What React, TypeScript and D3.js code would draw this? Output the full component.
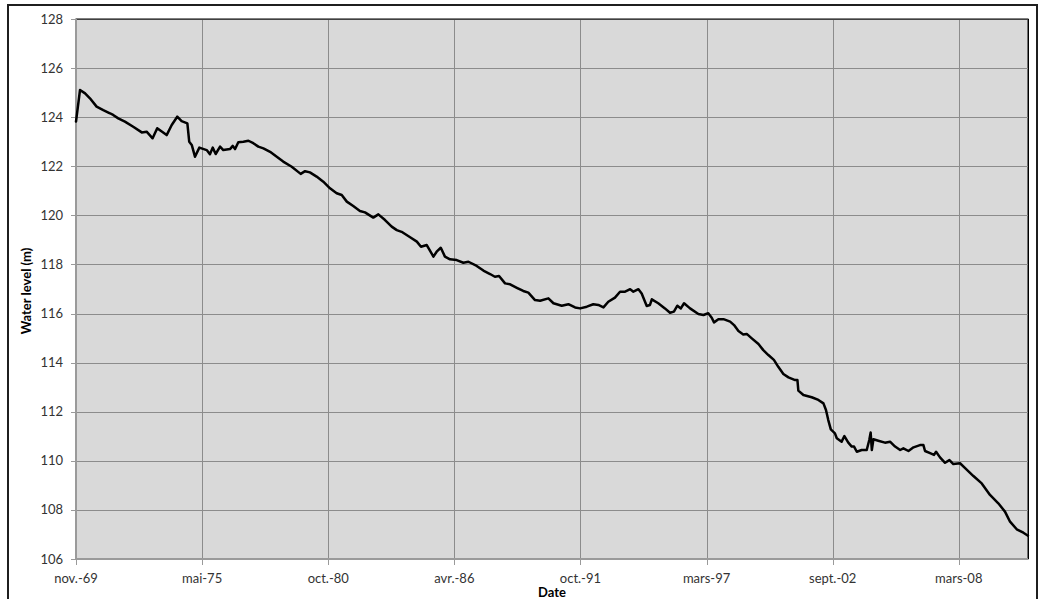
import React from "react";
import * as d3 from "d3";

// decimal years of the readings
const years: number[] = [
  1969.875, 1970.05, 1970.27, 1970.48, 1970.77, 1971.06, 1971.35, 1971.49, 1971.71, 1972.0,
  1972.36, 1972.73, 1972.94, 1973.2, 1973.4, 1973.81, 1974.03, 1974.27, 1974.46, 1974.71,
  1974.79, 1974.9, 1975.04, 1975.23, 1975.55, 1975.69, 1975.81, 1975.94, 1976.13, 1976.27,
  1976.56, 1976.68, 1976.78, 1976.92, 1977.14, 1977.36, 1977.57, 1977.79, 1978.01, 1978.3,
  1978.59, 1978.87, 1979.24, 1979.63, 1979.82, 1980.03, 1980.32, 1980.61, 1980.9, 1981.19,
  1981.41, 1981.63, 1981.91, 1982.2, 1982.42, 1982.78, 1983.0, 1983.29, 1983.58, 1983.8,
  1984.01, 1984.38, 1984.67, 1984.85, 1985.1, 1985.39, 1985.53, 1985.71, 1985.89, 1986.11,
  1986.4, 1986.69, 1986.91, 1987.27, 1987.56, 1987.85, 1988.06, 1988.24, 1988.5, 1988.72,
  1989.01, 1989.29, 1989.51, 1989.8, 1990.02, 1990.38, 1990.6, 1990.96, 1991.25, 1991.54,
  1991.76, 1992.05, 1992.33, 1992.55, 1992.77, 1992.98, 1993.27, 1993.49, 1993.71, 1993.93,
  1994.07, 1994.29, 1994.43, 1994.65, 1994.79, 1994.87, 1995.15, 1995.44, 1995.66, 1995.83,
  1995.98, 1996.13, 1996.27, 1996.53, 1996.89, 1997.11, 1997.32, 1997.47, 1997.57, 1997.76,
  1997.98, 1998.27, 1998.44, 1998.63, 1998.84, 1998.99, 1999.21, 1999.5, 1999.71, 1999.93,
  2000.17, 2000.36, 2000.58, 2000.8, 2001.09, 2001.19, 2001.23, 2001.45, 2001.81, 2002.1,
  2002.32, 2002.43, 2002.53, 2002.64, 2002.82, 2002.9, 2003.11, 2003.23, 2003.4, 2003.55,
  2003.65, 2003.77, 2003.98, 2004.2, 2004.31, 2004.37, 2004.42, 2004.49, 2004.7, 2004.99,
  2005.21, 2005.43, 2005.65, 2005.79, 2006.01, 2006.23, 2006.51, 2006.66, 2006.73, 2006.95,
  2007.12, 2007.21, 2007.38, 2007.6, 2007.79, 2007.96, 2008.25, 2008.47, 2008.83, 2009.19,
  2009.55, 2009.91, 2010.2, 2010.42, 2010.71, 2011.0, 2011.2,
];

// water level (m)
const levels: number[] = [
  123.82, 125.11, 124.97, 124.77, 124.43, 124.29, 124.16, 124.09, 123.95, 123.82,
  123.61, 123.38, 123.41, 123.14, 123.55, 123.27, 123.68, 124.02, 123.84, 123.75,
  123.0, 122.87, 122.39, 122.76, 122.66, 122.49, 122.76, 122.5, 122.8, 122.66,
  122.7, 122.83, 122.7, 122.98, 123.0, 123.04, 122.94, 122.8, 122.73, 122.59,
  122.39, 122.19, 121.98, 121.69, 121.8, 121.75, 121.58, 121.37, 121.1, 120.9,
  120.83, 120.56, 120.38, 120.18, 120.12, 119.91, 120.04, 119.81, 119.54, 119.4,
  119.33, 119.11, 118.93, 118.72, 118.79, 118.32, 118.52, 118.68, 118.32, 118.21,
  118.18, 118.07, 118.11, 117.94, 117.75, 117.61, 117.5, 117.53, 117.23, 117.19,
  117.05, 116.92, 116.85, 116.55, 116.52, 116.62, 116.42, 116.32, 116.38, 116.25,
  116.21, 116.28, 116.38, 116.35, 116.25, 116.48, 116.65, 116.89, 116.89, 116.99,
  116.89, 116.99, 116.82, 116.31, 116.35, 116.58, 116.42, 116.21, 116.03, 116.08,
  116.32, 116.21, 116.42, 116.21, 115.98, 115.94, 116.01, 115.83, 115.64, 115.77,
  115.77, 115.67, 115.53, 115.29, 115.15, 115.17, 114.99, 114.76, 114.51, 114.31,
  114.11, 113.83, 113.54, 113.4, 113.29, 113.29, 112.86, 112.68, 112.59, 112.48,
  112.34, 112.07, 111.66, 111.28, 111.12, 110.92, 110.78, 111.01, 110.74, 110.58,
  110.58, 110.37, 110.44, 110.44, 110.85, 111.15, 110.44, 110.88, 110.82, 110.74,
  110.78, 110.58, 110.44, 110.51, 110.4, 110.55, 110.64, 110.64, 110.4, 110.31,
  110.24, 110.37, 110.14, 109.92, 110.03, 109.87, 109.9, 109.7, 109.38, 109.08,
  108.61, 108.27, 107.93, 107.52, 107.21, 107.07, 106.95,
];

const tickYears: number[] = [1969.875, 1975.349, 1980.824, 1986.298, 1991.772, 1997.247, 2002.721, 2008.195];
const tickLabels: string[] = ["nov.-69", "mai-75", "oct.-80", "avr.-86", "oct.-91", "mars-97", "sept.-02", "mars-08"];
const yTicks: number[] = [106, 108, 110, 112, 114, 116, 118, 120, 122, 124, 126, 128];
const xDomainYears: number[] = [1969.875, 2011.2];
const yDomain: number[] = [106, 128];

function toDate(t: number): Date {
  const y = Math.floor(t);
  const a = new Date(y, 0, 1).getTime();
  const b = new Date(y + 1, 0, 1).getTime();
  return new Date(a + (t - y) * (b - a));
}

const W = 1041;
const H = 599;
const M = { left: 76, right: 1028, top: 19, bottom: 559 };
const FONT = "Lato, 'Open Sans', sans-serif";

export default function App() {
  const x = d3.scaleTime().domain(xDomainYears.map(toDate)).range([M.left, M.right]);
  const y = d3.scaleLinear().domain(yDomain).range([M.bottom, M.top]);
  const data = years.map((t, i) => ({ d: toDate(t), v: levels[i] }));
  const line = d3
    .line<{ d: Date; v: number }>()
    .x((p) => x(p.d))
    .y((p) => y(p.v));
  const ticks = tickYears.map((t, i) => ({ d: toDate(t), label: tickLabels[i] }));

  return (
    <svg width={W} height={H} style={{ position: "absolute", left: 0, top: 0, background: "#fff" }}>
      <rect x={8} y={5} width={1029} height={620} fill="#fff" stroke="#1f1f1f" strokeWidth={2} />
      <rect x={M.left} y={M.top} width={M.right - M.left} height={M.bottom - M.top} fill="#d9d9d9" stroke="#000" strokeWidth={1} />
      {yTicks.map((v) => (
        <line key={"gy" + v} x1={M.left} x2={M.right} y1={Math.round(y(v)) + 0.5} y2={Math.round(y(v)) + 0.5} stroke="#8c8c8c" strokeWidth={1} />
      ))}
      {ticks.map((t) => (
        <line key={"gx" + t.label} x1={Math.round(x(t.d)) + 0.5} x2={Math.round(x(t.d)) + 0.5} y1={M.top} y2={M.bottom} stroke="#8c8c8c" strokeWidth={1} />
      ))}
      <line x1={M.right + 0.5} x2={M.right + 0.5} y1={M.top} y2={M.bottom} stroke="#000" strokeWidth={1} />
      <line x1={M.left} x2={M.right} y1={M.top + 0.5} y2={M.top + 0.5} stroke="#404040" strokeWidth={1} />
      {/* axes */}
      <line x1={M.left} x2={M.left} y1={M.top} y2={M.bottom + 1} stroke="#9a9a9a" strokeWidth={2} />
      <line x1={M.left - 1} x2={M.right} y1={M.bottom} y2={M.bottom} stroke="#9a9a9a" strokeWidth={2} />
      {yTicks.map((v) => (
        <g key={"yt" + v}>
          <line x1={M.left - 5} x2={M.left} y1={Math.round(y(v)) + 0.5} y2={Math.round(y(v)) + 0.5} stroke="#9a9a9a" strokeWidth={1} />
          <text x={63} y={y(v)} dy="0.35em" textAnchor="end" fontFamily={FONT} fontSize={13} fill="#333">
            {v}
          </text>
        </g>
      ))}
      {ticks.map((t) => (
        <g key={"xt" + t.label}>
          <line x1={Math.round(x(t.d)) + 0.5} x2={Math.round(x(t.d)) + 0.5} y1={M.bottom} y2={M.bottom + 6} stroke="#9a9a9a" strokeWidth={1} />
          <text x={x(t.d)} y={583} textAnchor="middle" fontFamily={FONT} fontSize={13} fill="#333">
            {t.label}
          </text>
        </g>
      ))}
      <path d={line(data) || ""} fill="none" stroke="#000" strokeWidth={2.5} strokeLinejoin="round" strokeLinecap="round" />
      <text x={(M.left + M.right) / 2} y={597} textAnchor="middle" fontFamily={FONT} fontSize={13} fontWeight="bold" fill="#000">
        Date
      </text>
      <text transform={`translate(31, ${(M.top + M.bottom) / 2 + 2}) rotate(-90)`} textAnchor="middle" fontFamily={FONT} fontSize={13} fontWeight="bold" fill="#000">
        Water level (m)
      </text>
    </svg>
  );
}
